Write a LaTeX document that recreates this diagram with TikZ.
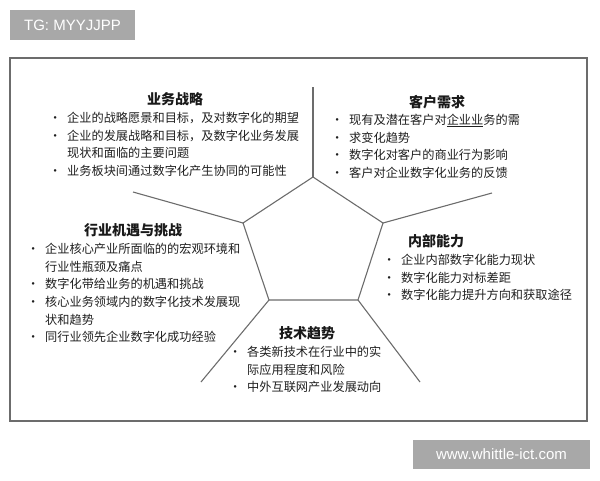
\documentclass[tikz,border=0pt]{standalone}
\usepackage{fontspec}
\setmainfont{Noto Sans CJK SC}
\newfontfamily\latinsans{Liberation Sans}
\usetikzlibrary{positioning}
\tikzset{
  spoke/.style={draw=gray!85!black, line width=1.1pt},
  ttl/.style={font=\fontsize{14}{16}\selectfont\bfseries, text=black!90, inner sep=0pt, anchor=base},
  lst/.style={font=\fontsize{12.2}{17.6}\selectfont, text=black!88, inner sep=0pt, anchor=base west},
  tag/.style={fill=gray!68, text=white, font=\latinsans\fontsize{15}{15}\selectfont, inner sep=0pt}
}
\newcommand{\bul}{\makebox[19pt][l]{\hspace{1pt}•}}
\newcommand{\cnt}{\hspace*{19pt}}
\begin{document}
\begin{tikzpicture}[x=1pt,y=-1pt]
\useasboundingbox (0,0) rectangle (600,480);
\node[tag, minimum width=125pt, minimum height=30pt] (tg) at (72.5,25) {TG: MYYJJPP};
\node[tag, minimum width=177pt, minimum height=29pt] (www) at (501.5,454.5) {www.whittle-ict.com};
\draw[gray!85!black, line width=1.5pt] (10,58) rectangle (587,421);

\coordinate (p0) at (313,177);
\coordinate (p1) at (383,223);
\coordinate (p2) at (358,300);
\coordinate (p3) at (269,300);
\coordinate (p4) at (243,223);
\coordinate (e0) at (313,87);
\coordinate (e1) at (492,193);
\coordinate (e2) at (420,382);
\coordinate (e3) at (201,382);
\coordinate (e4) at (133,192);
\draw[spoke, line join=round] (p0) -- (p1) -- (p2) -- (p3) -- (p4) -- cycle;
\draw[spoke](p0) -- (e0);
\draw[spoke](p1) -- (e1);
\draw[spoke](p2) -- (e2);
\draw[spoke](p3) -- (e3);
\draw[spoke](p4) -- (e4);

\node[ttl] (t0) at (175,104) {业务战略};
\node[lst] (l0) at (48,122.6) {\begin{tabular}[t]{@{}l@{}}
\bul 企业的战略愿景和目标，及对数字化的期望\\
\bul 企业的发展战略和目标，及数字化业务发展\\
\cnt 现状和面临的主要问题\\
\bul 业务板块间通过数字化产生协同的可能性
\end{tabular}};

\node[ttl] (t1) at (437,107) {客户需求};
\node[lst] (l1) at (330,124.6) {\begin{tabular}[t]{@{}l@{}}
\bul 现有及潜在客户对\underline{企业业}务的需\\
\bul 求变化趋势\\
\bul 数字化对客户的商业行为影响\\
\bul 客户对企业数字化业务的反馈
\end{tabular}};

\node[ttl] (t2) at (133,235) {行业机遇与挑战};
\node[lst] (l2) at (26,253.6) {\begin{tabular}[t]{@{}l@{}}
\bul 企业核心产业所面临的的宏观环境和\\
\cnt 行业性瓶颈及痛点\\
\bul 数字化带给业务的机遇和挑战\\
\bul 核心业务领域内的数字化技术发展现\\
\cnt 状和趋势\\
\bul 同行业领先企业数字化成功经验
\end{tabular}};

\node[ttl] (t3) at (436,246) {内部能力};
\node[lst] (l3) at (382,264.6) {\begin{tabular}[t]{@{}l@{}}
\bul 企业内部数字化能力现状\\
\bul 数字化能力对标差距\\
\bul 数字化能力提升方向和获取途径
\end{tabular}};

\node[ttl] (t4) at (307,338) {技术趋势};
\node[lst] (l4) at (228,356.6) {\begin{tabular}[t]{@{}l@{}}
\bul 各类新技术在行业中的实\\
\cnt 际应用程度和风险\\
\bul 中外互联网产业发展动向
\end{tabular}};

\end{tikzpicture}
\end{document}
